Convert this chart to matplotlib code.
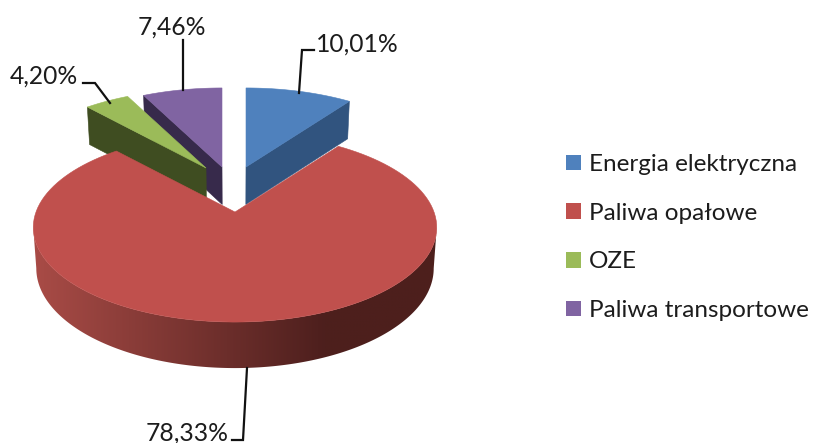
import numpy as np
import matplotlib
matplotlib.use("Agg")
import matplotlib.pyplot as plt
from matplotlib.patches import Patch, Polygon
from matplotlib.colors import to_rgb

categories = ["Energia elektryczna", "Paliwa opałowe", "OZE", "Paliwa transportowe"]
values = [10.01, 78.33, 4.20, 7.46]
value_labels = ["10,01%", "78,33%", "4,20%", "7,46%"]

top_colors = ["#4F81BD", "#C0504D", "#9BBB59", "#8064A2"]
side_colors = ["#31547F", "#4D1F1D", "#3F4D21", "#372A4B"]
offsets = [(11, -45), (0, 0), (-29, -44), (-13, -45)]

CX, CY = 235, 212
RX, RY, P = 199.0, 92.0, 0.164
FS_LEG = 17.5
FS_VAL = 17.7
FONT = "Lato"
TXT = "#1c1c1c"

fig = plt.figure(figsize=(8.14, 4.43), dpi=100, facecolor="white")
ax = fig.add_axes([0, 0, 1, 1])
ax.axis("off")


def top_point(deg, off):
    t = np.radians(deg)
    u, v = np.sin(t), np.cos(t)
    w = 1 + P * v
    return CX + off[0] + RX * u / w, CY + off[1] - RY * v / w


def lower(x, y):
    depth = 37.5 + np.maximum(0, y - 167) * 0.055
    return CX + (x - CX) * 0.985, y + depth


edges = np.concatenate([[0], np.cumsum(values)]) * 3.6
spans = list(zip(edges[:-1], edges[1:]))


def apex(off):
    return CX + off[0], CY + off[1]


def draw_side(i, edge_deg, z):
    off = offsets[i]
    ax_, ay_ = apex(off)
    ex, ey = top_point(edge_deg, off)
    bx0, by0 = lower(ex, ey)
    bx1, by1 = lower(ax_, ay_)
    ax.fill([ex, ax_, bx1, bx0], [ey, ay_, by1, by0], color=side_colors[i], lw=0.4, zorder=z)


def draw_top(i, z):
    off = offsets[i]
    a0, a1 = spans[i]
    th = np.linspace(a0, a1, 120)
    xs, ys = top_point(th, off)
    ax_, ay_ = apex(off)
    ax.fill(np.r_[ax_, xs], np.r_[ay_, ys], color=top_colors[i], lw=0.4, zorder=z)


# rear slices: purple, then green, then blue
draw_side(3, spans[3][0], 2.9)
draw_top(3, 3.0)
draw_side(2, spans[2][0], 3.1)
draw_top(2, 3.2)
draw_side(0, spans[0][1], 3.25)
draw_top(0, 3.3)

# red outer wall: a left-to-right gradient clipped to the wall outline
c_left = np.array(to_rgb("#A84B46"))
c_right = np.array(to_rgb("#4D1F1D"))
th = np.linspace(99.4, 260.6, 240)
xs, ys = top_point(th, offsets[1])
bx, by = lower(xs, ys)
wall = Polygon(np.c_[np.r_[xs, bx[::-1]], np.r_[ys, by[::-1]]], closed=True,
               transform=ax.transData, facecolor="none", edgecolor="none")
ax.add_patch(wall)
grad_x = np.linspace(30, 440, 412)
t = np.clip((grad_x - 37) / (325 - 37), 0, 1)[None, :, None]
grad = c_left[None, None, :] + (c_right - c_left)[None, None, :] * t
img = ax.imshow(grad, extent=(30, 440, 380, 200), aspect="auto", zorder=4, interpolation="bilinear")
img.set_clip_path(wall)
draw_top(1, 5)

ax.set_xlim(0, 814)
ax.set_ylim(443, 0)

# leader lines and value labels
leaders = [
    ([299, 302, 314], [93, 50, 50]),
    ([247, 243, 232], [368, 440, 440]),
    ([110, 95, 83], [103, 83, 83]),
    ([183, 183], [90, 40]),
]
for lx_, ly_ in leaders:
    ax.plot(lx_, ly_, color="#111111", lw=1.6, solid_joinstyle="miter", zorder=6)

label_pos = [(316, 44, "left"), (229, 433, "right"), (78, 76, "right"), (172, 27, "center")]
for (x, y, ha), s in zip(label_pos, value_labels):
    ax.text(x, y, s, ha=ha, va="center", fontsize=FS_VAL, family=FONT, color=TXT, zorder=7)

handles = [Patch(facecolor=c, edgecolor="none") for c in top_colors]
ax.legend(handles, categories, loc="upper left", bbox_to_anchor=(566 / 814, 1 - 154 / 443),
          frameon=False, borderpad=0, borderaxespad=0, handlelength=0.62, handleheight=0.62,
          handletextpad=0.33, labelspacing=1.14, labelcolor=TXT,
          prop={"family": FONT, "size": FS_LEG})

fig.savefig("out.png", dpi=100, facecolor="white")
